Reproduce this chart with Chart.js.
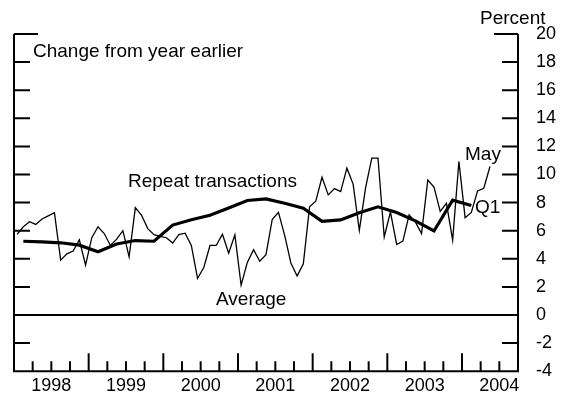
<!DOCTYPE html>
<html>
<head>
<meta charset="utf-8">
<script src="https://cdn.jsdelivr.net/npm/chart.js@4.4.0/dist/chart.umd.min.js"></script>
<style>
html,body{margin:0;padding:0;background:#fff;}
#wrap{width:569px;height:400px;}
</style>
</head>
<body>
<div id="wrap"><canvas id="chart" width="569" height="400"></canvas></div>
<script>
// Average, monthly, Jan 1998 - May 2004 (percent change from year earlier)
let averageMonthly = [
    5.74, 6.28, 6.64, 6.45, 6.83, 7.05, 7.28, 3.90, 4.35, 4.55, 5.35, 3.55,   // 1998
    5.50, 6.28, 5.80, 4.95, 5.40, 6.00, 4.14, 7.64, 7.10, 6.15, 5.72, 5.60,   // 1999
    5.50, 5.12, 5.72, 5.82, 4.95, 2.60, 3.38, 4.95, 4.95, 5.75, 4.40, 5.70,   // 2000
    2.12, 3.74, 4.65, 3.83, 4.30, 6.80, 7.30, 5.67, 3.70, 2.77, 3.65, 7.70,   // 2001
    8.10, 9.80, 8.55, 9.00, 8.78, 10.45, 9.32, 6.02, 9.05, 11.16, 11.16, 5.55, // 2002
    7.33, 5.02, 5.26, 7.12, 6.62, 5.80, 9.60, 9.10, 7.38, 7.95, 5.33, 10.93,  // 2003
    6.93, 7.30, 8.83, 9.02, 10.57                                              // 2004
];
// Repeat transactions, quarterly, 1998 Q1 - 2004 Q1
let repeatQuarterly = [
    5.25, 5.20, 5.14, 4.97,
    4.50, 5.05, 5.30, 5.25,
    6.40, 6.78, 7.10, 7.62,
    8.15, 8.26, 7.95, 7.60,
    6.66, 6.77, 7.28, 7.70,
    7.30, 6.70, 5.98, 8.17,
    7.79
];
let firstYear = 1998;
let yearLabels = ["1998", "1999", "2000", "2001", "2002", "2003", "2004"];
let yTicks = [-4, -2, 0, 2, 4, 6, 8, 10, 12, 14, 16, 18, 20];

const FONT = '"Liberation Sans", Arial, sans-serif';

let monthPoints = averageMonthly.map((v, i) => ({x: firstYear + (i + 0.5) / 12, y: v}));
let quarterPoints = repeatQuarterly.map((v, i) => ({x: firstYear + (i + 0.5) / 4, y: v}));

// frame, inward tick marks, zero line and text labels
const framePlugin = {
    id: "frame",
    afterDraw(chart){
        const {ctx, chartArea: a, scales: {x, y}} = chart;
        ctx.save();
        ctx.strokeStyle = "#000";
        ctx.lineWidth = 2;
        ctx.beginPath();
        ctx.moveTo(a.left, a.top); ctx.lineTo(a.left, a.bottom);
        ctx.lineTo(a.right, a.bottom); ctx.lineTo(a.right, a.top);
        let y0 = y.getPixelForValue(0);
        ctx.moveTo(a.left, y0); ctx.lineTo(a.right, y0);
        yTicks.forEach(v => {
            let py = y.getPixelForValue(v);
            let len = v === 20 ? 24 : 16;
            ctx.moveTo(a.left, py); ctx.lineTo(a.left + len, py);
            ctx.moveTo(a.right, py); ctx.lineTo(a.right - len, py);
        });
        for(let q = 1; q < 27; q++){
            let px = x.getPixelForValue(firstYear + q / 4);
            let len = q % 4 === 0 ? 18 : 10;
            ctx.moveTo(px, a.bottom); ctx.lineTo(px, a.bottom - len);
        }
        ctx.stroke();

        ctx.fillStyle = "#000";
        ctx.font = "19px " + FONT;
        ctx.textBaseline = "alphabetic";
        ctx.textAlign = "left";
        ctx.fillText("Percent", 480, 23.5);
        ctx.fillText("Change from year earlier", 33, 56.5);
        ctx.fillText("Repeat transactions", 128, 186.5);
        ctx.fillText("Average", 216, 305);
        ctx.fillText("May", 465, 160);
        ctx.fillText("Q1", 475, 213);
        ctx.restore();
    }
};

new Chart(document.getElementById("chart").getContext("2d"), {
    type: "line",
    data: {
        datasets: [
            {label: "Average", data: monthPoints, borderColor: "#000", borderWidth: 1.3, pointRadius: 0, tension: 0, fill: false},
            {label: "Repeat transactions", data: quarterPoints, borderColor: "#000", borderWidth: 3.2, pointRadius: 0, tension: 0, fill: false}
        ]
    },
    options: {
        responsive: false,
        animation: false,
        devicePixelRatio: 1,
        layout: {padding: {left: 14, top: 34, right: 0, bottom: 0}},
        plugins: {legend: {display: false}, tooltip: {enabled: false}},
        scales: {
            x: {
                type: "linear", min: 1998, max: 2004.75,
                grid: {display: false, drawTicks: false}, border: {display: false},
                ticks: {
                    autoSkip: false, maxRotation: 0, padding: 4,
                    color: "#000", font: {size: 18, family: FONT},
                    callback: v => yearLabels[Math.floor(v) - firstYear]
                },
                // one label in the middle of each year
                afterBuildTicks: s => { s.ticks = yearLabels.map((_, i) => ({value: firstYear + i + 0.5})); },
                afterFit: s => { s.height = 28; }
            },
            y: {
                position: "right", min: -4, max: 20,
                grid: {display: false, drawTicks: false}, border: {display: false},
                ticks: {stepSize: 2, padding: 18, color: "#000", font: {size: 18, family: FONT}},
                afterFit: s => { s.width = 51; }
            }
        }
    },
    plugins: [framePlugin]
});
</script>
</body>
</html>
